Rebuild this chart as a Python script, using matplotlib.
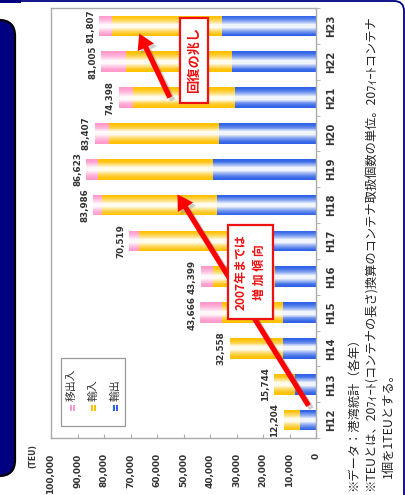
import matplotlib
matplotlib.use("Agg")
import matplotlib.pyplot as plt
import matplotlib.patches as mpatches
from matplotlib.colors import to_rgb
import numpy as np

plt.rcParams['font.family'] = ['DejaVu Sans', 'Noto Sans CJK JP']
JP = ['Noto Sans CJK JP', 'DejaVu Sans']

# ---------------- data ----------------
years = ['H12', 'H13', 'H14', 'H15', 'H16', 'H17', 'H18', 'H19', 'H20', 'H21', 'H22', 'H23']
export_teu = [6000, 7900, 12500, 12500, 15500, 28000, 37400, 38900, 36600, 30500, 31700, 35500]    # 輸出
import_teu = [6204, 7844, 20058, 23000, 23500, 38800, 43400, 43400, 41400, 38500, 40000, 41500]    # 輸入
transfer_teu = [0, 0, 0, 8166, 4399, 3719, 3186, 4323, 5407, 5398, 9305, 4807]                     # 移出入
totals = [12204, 15744, 32558, 43666, 43399, 70519, 83986, 86623, 83407, 74398, 81005, 81807]
value_ticks = [0, 10000, 20000, 30000, 40000, 50000, 60000, 70000, 80000, 90000, 100000]
series_names = ['移出入', '輸入', '輸出']

BLUE = '#2f62e6'
YELLOW = '#ffc000'
PINK = '#ff99cc'

W, H = 406, 495
fig = plt.figure(figsize=(W / 100, H / 100), dpi=100)
fig.patch.set_facecolor('white')


def fx(x):
    return x / W


def fy(y):
    return 1 - y / H


def inch(x, y):
    return (x / 100, (H - y) / 100)


# ---------------- frame decorations ----------------
NAVY = '#000080'
left_panel = mpatches.FancyBboxPatch(inch(-40, 476), 0.55, (476 - 20) / 100,
                                     boxstyle='round,pad=0,rounding_size=0.16',
                                     transform=fig.dpi_scale_trans, fc=NAVY, ec='black', lw=1.6)
fig.add_artist(left_panel)
fig.add_artist(mpatches.Rectangle(inch(0, 2.5), 0.21, 0.025, transform=fig.dpi_scale_trans,
                                  fc=NAVY, ec='none'))
right_border = mpatches.FancyBboxPatch(inch(-60, 540), (404 + 60) / 100, (540 - 1) / 100,
                                       boxstyle='round,pad=0,rounding_size=0.10',
                                       transform=fig.dpi_scale_trans, fc='none', ec=NAVY, lw=1.3)
fig.add_artist(right_border)

# ---------------- axes ----------------
ax = fig.add_axes([fx(51), fy(438), (316 - 51) / W, (438 - 8) / H])
ax.set_xlim(100000, 0)
ax.set_ylim(-0.5, len(years) - 0.5)
y = np.arange(len(years))


def blend(c, t):
    r, g, b = to_rgb(c)
    return (r + (1 - r) * t, g + (1 - g) * t, b + (1 - b) * t)


def grad_barh(vals, lefts, base, h=0.58, n=10):
    for k in range(n):
        frac = k / (n - 1)
        hh = h * (1 - 0.8 * frac)
        ax.barh(y, vals, left=lefts, height=hh, color=blend(base, 0.93 * frac ** 1.6),
                linewidth=0, zorder=2 + k * 0.01)


exp = np.array(export_teu)
imp = np.array(import_teu)
trn = np.array(transfer_teu)
grad_barh(exp, 0, BLUE)
grad_barh(imp, exp, YELLOW)
grad_barh(trn, exp + imp, PINK)

for i, t in enumerate(totals):
    ax.annotate(f"{t:,}", xy=(t, y[i]), xytext=(-3, 0), textcoords='offset points',
                rotation=90, ha='right', va='center', fontsize=6.3, fontweight='bold',
                color='#333333')

for s in ax.spines.values():
    s.set_color('#aaaaaa')
    s.set_linewidth(1.0)

ax.yaxis.tick_right()
ax.set_yticks(y)
ax.set_yticklabels(years)
ax.set_yticks(np.arange(len(years) + 1) - 0.5, minor=True)
ax.tick_params(axis='y', which='major', length=0, pad=7, labelrotation=90, labelsize=7.3,
               labelcolor='#333333')
ax.tick_params(axis='y', which='minor', length=3, color='#aaaaaa', direction='out')
for lbl in ax.get_yticklabels():
    lbl.set_fontweight('bold')
    lbl.set_va('center')

ax.set_xticks(value_ticks)
ax.set_xticklabels([f"{v:,}" for v in value_ticks])
ax.tick_params(axis='x', length=3, direction='in', color='#aaaaaa', pad=11, labelrotation=90,
               labelsize=6.5, labelcolor='#333333')
for lbl in ax.get_xticklabels():
    lbl.set_fontweight('bold')

fig.text(fx(33), fy(444), '(TEU)', rotation=90, ha='center', va='top', fontsize=5.5,
         fontweight='bold', color='#333333')

# ---------------- legend (manual, rotated) ----------------
fig.add_artist(mpatches.Rectangle(inch(61, 426), 0.64, 0.68, transform=fig.dpi_scale_trans,
                                  fc='white', ec='#999999', lw=0.9, zorder=5))
for xc, name, col in zip([72, 93, 115], series_names, [PINK, YELLOW, BLUE]):
    fig.add_artist(mpatches.Rectangle(inch(xc - 2.5, 411), 0.05, 0.06,
                                      transform=fig.dpi_scale_trans, fc=col, ec='none', zorder=6))
    fig.add_artist(mpatches.Rectangle(inch(xc - 0.5, 411), 0.01, 0.06,
                                      transform=fig.dpi_scale_trans, fc='white', ec='none', zorder=7))
    fig.text(fx(xc), fy(401), name, rotation=90, ha='center', va='bottom', fontsize=7.8,
             family=JP, color='#333333', zorder=7)

# ---------------- annotations ----------------
def arrow(p0, p1):
    style = mpatches.ArrowStyle('Simple', head_length=11, head_width=13, tail_width=3.8)
    sh = mpatches.FancyArrowPatch(inch(p0[0] + 3, p0[1] + 3), inch(p1[0] + 3, p1[1] + 3),
                                  arrowstyle=style, mutation_scale=1, fc='#777777', ec='none',
                                  alpha=0.35, transform=fig.dpi_scale_trans, zorder=8)
    ar = mpatches.FancyArrowPatch(inch(*p0), inch(*p1), arrowstyle=style, mutation_scale=1,
                                  fc='#ff0000', ec='none', transform=fig.dpi_scale_trans, zorder=9)
    fig.add_artist(sh)
    fig.add_artist(ar)


arrow((310, 408), (176, 192))
arrow((171, 100), (138, 31))


def rbox(x0, y0, x1, y1):
    fig.add_artist(mpatches.Rectangle(inch(x0, y1), (x1 - x0) / 100, (y1 - y0) / 100,
                                      transform=fig.dpi_scale_trans, fc='white', ec='#ee1111',
                                      lw=1.6, zorder=10))


rbox(228, 225, 273, 319)
fig.text(fx(241), fy(272), '2007年までは', rotation=90, ha='center', va='center', fontsize=8.6,
         fontweight='bold', family=JP, color='#ee1111', zorder=11)
fig.text(fx(259), fy(272), '増 加 傾 向', rotation=90, ha='center', va='center', fontsize=8.6,
         fontweight='bold', family=JP, color='#ee1111', zorder=11)

rbox(180, 18, 208, 103)
fig.text(fx(194), fy(60), '回復の兆し', rotation=90, ha='center', va='center', fontsize=9.5,
         fontweight='bold', family=JP, color='#ee1111', zorder=11)

# ---------------- footnotes ----------------
FN = 8.8
fig.text(fx(354), fy(491), '※データ：港湾統計（各年）', rotation=90, ha='center', va='bottom',
         fontsize=FN, family=JP, color='#222222')
fig.text(fx(371), fy(491), '※TEUとは、20ﾌｨｰﾄ(コンテナの長さ)換算のコンテナ取扱個数の単位。20ﾌｨｰﾄコンテナ',
         rotation=90, ha='center', va='bottom', fontsize=FN, family=JP, color='#222222')
fig.text(fx(388), fy(478), '1個を1TEUとする。', rotation=90, ha='center', va='bottom',
         fontsize=FN, family=JP, color='#222222')

fig.savefig('out.png', dpi=100)
